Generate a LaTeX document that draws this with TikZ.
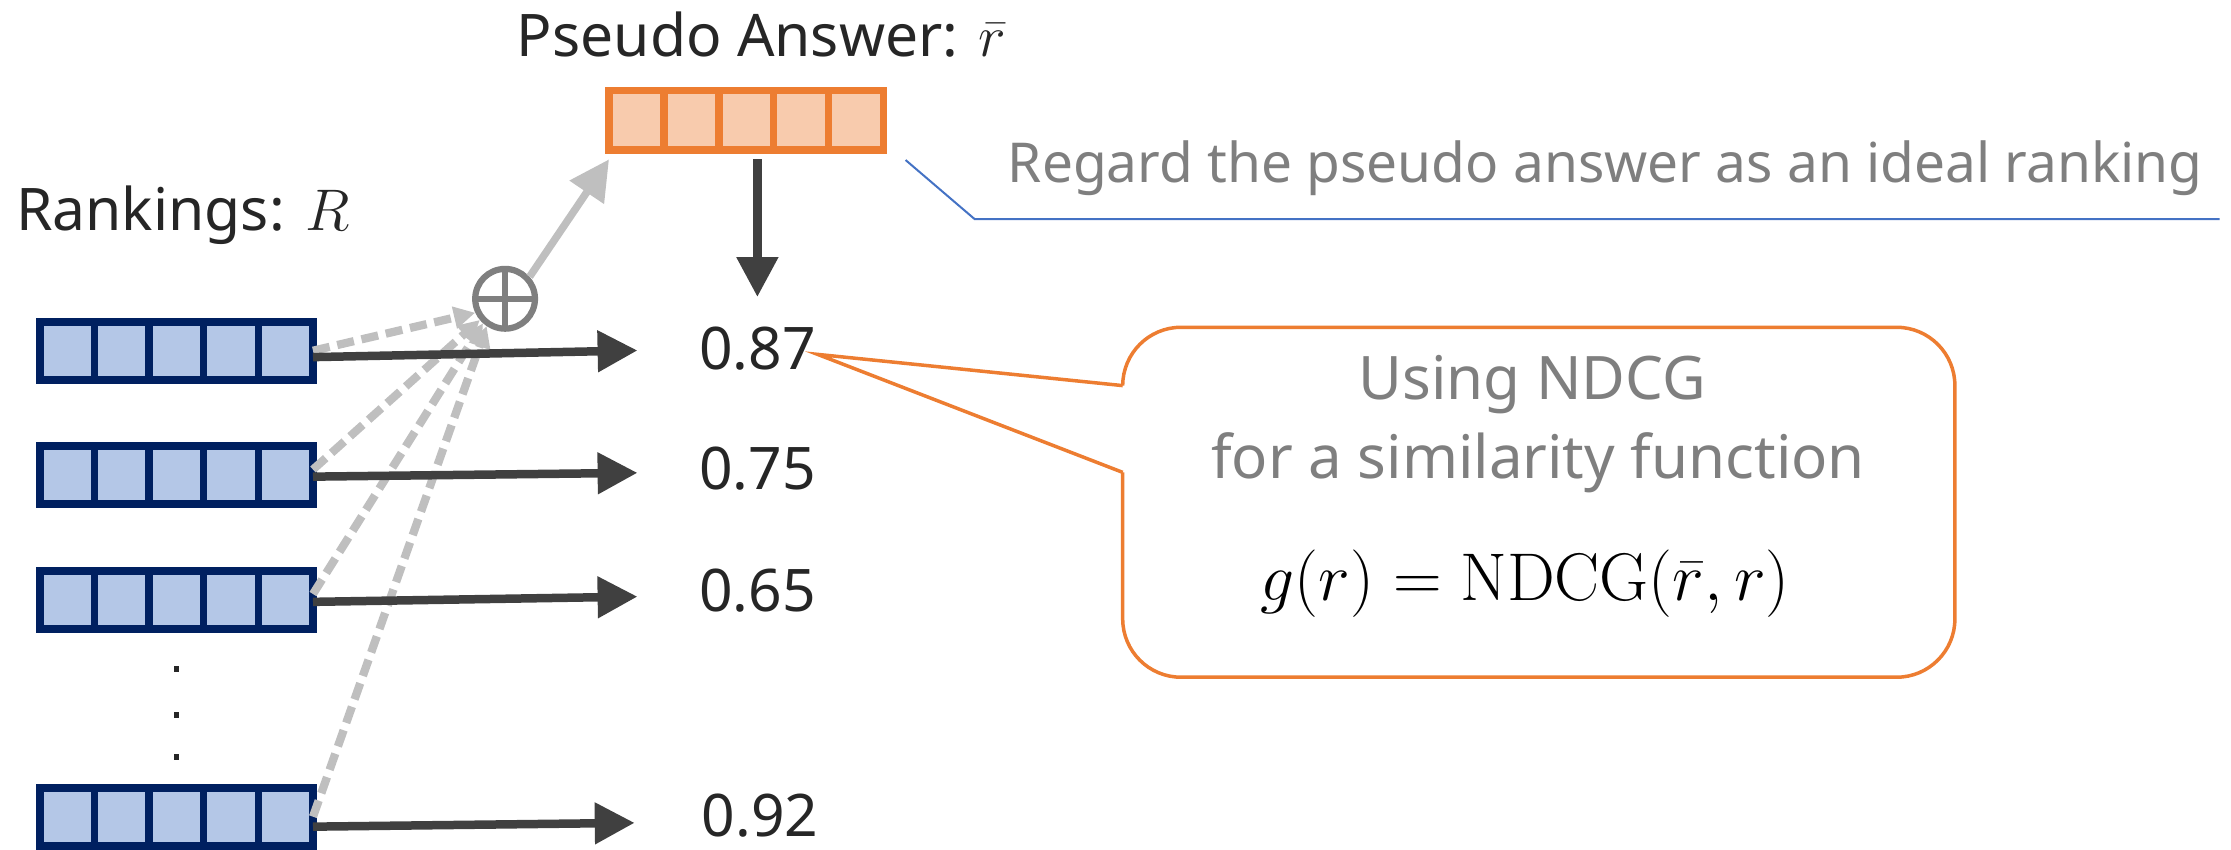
\RequirePackage{fix-cm}
\documentclass[tikz,border=0pt]{standalone}
\usepackage[no-math]{fontspec}
\setmainfont{Noto Sans}
\usetikzlibrary{arrows.meta,positioning,calc}
\definecolor{rankfill}{HTML}{B4C7E7}
\definecolor{rankline}{HTML}{002060}
\definecolor{ansfill}{HTML}{F8CBAD}
\definecolor{ansline}{HTML}{ED7D31}
\definecolor{notegray}{HTML}{7F7F7F}
\definecolor{lightarr}{HTML}{BFBFBF}
\definecolor{darkarr}{HTML}{404040}
\definecolor{notelink}{HTML}{4472C4}
\definecolor{textdark}{HTML}{262626}

\tikzset{
  cells/.style 2 args={draw=#1, fill=#2, line width=3.2pt, inner sep=0pt, outer sep=0pt,
    minimum width=3.84cm, minimum height=0.82cm,
    path picture={\foreach \k in {1,...,4}
      \draw[#1, line width=3pt]
        ($(path picture bounding box.south west)!\k/5!(path picture bounding box.south east)$)
        -- ($(path picture bounding box.north west)!\k/5!(path picture bounding box.north east)$);}},
  rankbox/.style={cells={rankline}{rankfill}},
  ansbox/.style={cells={ansline}{ansfill}, line width=3pt, minimum width=3.86cm, minimum height=0.84cm},
  lbl/.style={font=\fontsize{23.5}{28}\selectfont, text=textdark, inner sep=0pt},
  note/.style={font=\fontsize{22}{26}\selectfont, text=notegray, inner sep=0pt},
  darrow/.style={draw=darkarr, line width=3.4pt, -{Triangle[length=0.56cm,width=0.56cm]}},
  larrow/.style={draw=lightarr, line width=3pt, -{Triangle[length=0.56cm,width=0.56cm]}},
  dasharr/.style={draw=lightarr, line width=3.3pt, dash pattern=on 0.24cm off 0.11cm,
    -{Triangle[length=0.3cm,width=0.3cm]}},
  sumnode/.style={circle, draw=notegray, line width=2.5pt, minimum size=0.84cm, inner sep=0pt,
    path picture={\draw[notegray, line width=2.3pt]
      (path picture bounding box.north) -- (path picture bounding box.south)
      (path picture bounding box.west) -- (path picture bounding box.east);}},
  callout/.style={draw=ansline, fill=white, line width=1.4pt, rounded corners=0.82cm,
    inner sep=0pt, outer sep=0pt, minimum width=11.7cm, minimum height=4.92cm},
  dotmark/.style={fill=textdark, inner sep=0pt, minimum width=0.07cm, minimum height=0.09cm}
}

\begin{document}
\begin{tikzpicture}[x=0.02cm,y=-0.02cm]
\useasboundingbox (0,0) rectangle (1568,597);

% labels
\node[lbl, anchor=base west] (palabel) at (363,40) {Pseudo Answer: $\bar{r}$};
\node[lbl, anchor=base west] (rlabel) at (11,162) {Rankings: $R$};
\node[note, anchor=base west] (regard) at (708,128) {Regard the pseudo answer as an ideal ranking};

% pseudo answer and rankings
\node[ansbox] (pa) at (524.5,84.5) {};
\node[rankbox] (r1) at (124,246.5) {};
\node[rankbox] (r2) at (124,334) {};
\node[rankbox] (r3) at (124,421.5) {};
\node[rankbox] (r4) at (124,574) {};
\foreach \i/\y in {1/470,2/502.5,3/532}
  \node[dotmark] (dot\i) at (124,\y) {};

% scores
\node[lbl, anchor=base west] (n1) at (491,260) {0.87};
\node[lbl, anchor=base west] (n2) at (491,344) {0.75};
\node[lbl, anchor=base west] (n3) at (491,430) {0.65};
\node[lbl, anchor=base west] (n4) at (493,588) {0.92};

% aggregation
\node[sumnode] (sum) at (355,210) {};
\draw[dasharr] (r1.east) -- (sum.205);
\draw[dasharr] ([yshift=0.08cm]r2.east) -- (sum.220);
\draw[dasharr] ([yshift=0.08cm]r3.east) -- (sum.228);
\draw[dasharr] (r4.east) -- (sum.236);
\draw[larrow] (sum.42) -- ([yshift=-0.13cm]pa.south west);
\draw[darrow] ([yshift=-0.13cm]pa.south -| n1.north) -- ([yshift=0.42cm]n1.north);

\draw[darrow] ([yshift=-0.09cm]r1.east) -- ([xshift=-0.86cm,yshift=-0.02cm]n1.west);
\draw[darrow] ([yshift=-0.02cm]r2.east) -- ([xshift=-0.86cm,yshift=-0.06cm]n2.west);
\draw[darrow] ([yshift=-0.03cm]r3.east) -- ([xshift=-0.86cm,yshift=-0.08cm]n3.west);
\draw[darrow] ([yshift=-0.14cm]r4.east) -- ([xshift=-0.94cm,yshift=-0.1cm]n4.west);

% note line
\coordinate (kink) at (685,154);
\coordinate (lineend) at (1560,154);
\draw[notelink, line width=0.8pt] ([xshift=0.31cm,yshift=-0.14cm]pa.south east) -- (kink) -- (lineend);

% callout
\node[callout] (cbox) at (1081.5,353) {};
\coordinate (ctip) at ([xshift=0.02cm,yshift=-0.075cm]n1.east);
\coordinate (cb1) at ([yshift=-0.82cm]cbox.north west);
\coordinate (cb2) at ([yshift=-2.04cm]cbox.north west);
\fill[white] (ctip) -- (cb1) -- ([xshift=2pt]cb1) -- ([xshift=2pt]cb2) -- (cb2) -- cycle;
\draw[ansline, line width=1.4pt] (cb1) -- (ctip) -- (cb2);
\node[note, anchor=base, font=\fontsize{24}{28}\selectfont] (using) at (1077,281) {Using NDCG};
\node[note, anchor=base, font=\fontsize{24}{28}\selectfont] (simfn) at (1081,336) {for a similarity function};
\node[anchor=base, inner sep=0pt, font=\fontsize{27}{32}\selectfont] (fml) at (1072,422) {$g(r)=\mathrm{NDCG}(\bar{r},r)$};
\end{tikzpicture}
\end{document}
